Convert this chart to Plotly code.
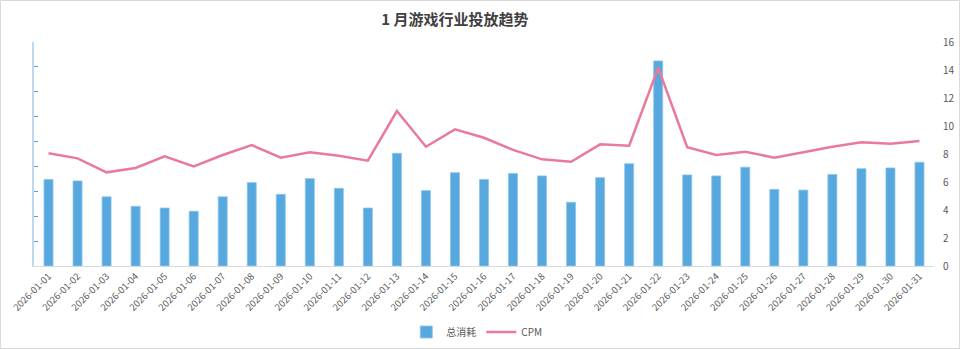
import plotly.graph_objects as go

# January daily data: total spend (left axis, unlabeled) and CPM (right axis)
dates = [f"2026-01-{d:02d}" for d in range(1, 32)]
spend = [34.8, 34.2, 27.8, 24.0, 23.3, 22.0, 27.8, 33.5, 28.8, 35.1, 31.2, 23.3,
         45.3, 30.3, 37.5, 34.8, 37.2, 36.2, 25.6, 35.5, 41.1, 82.4, 36.6, 36.2,
         39.7, 30.8, 30.5, 36.8, 39.1, 39.4, 41.7]
cpm = [8.05, 7.69, 6.69, 7.00, 7.84, 7.12, 7.93, 8.64, 7.74, 8.12, 7.88, 7.52,
       11.07, 8.52, 9.76, 9.16, 8.29, 7.62, 7.45, 8.69, 8.59, 14.16, 8.48, 7.93,
       8.16, 7.74, 8.12, 8.52, 8.84, 8.74, 8.93]
right_ticks = [0, 2, 4, 6, 8, 10, 12, 14, 16]

FONT = "Noto Sans CJK SC, Noto Sans, sans-serif"
W, H = 960, 349
L, R, T, B = 34, 26, 42, 83

fig = go.Figure()
fig.add_trace(go.Bar(
    x=dates, y=spend, name="总消耗",
    marker=dict(color="#56a8df", line=dict(color="#8cc4ec", width=0.8)),
    width=0.31, yaxis="y",
))
fig.add_trace(go.Scatter(
    x=dates, y=cpm, name="CPM", mode="lines",
    line=dict(color="#e97a9c", width=2.5), yaxis="y2",
))

fig.update_layout(
    width=W, height=H,
    margin=dict(l=L, r=R, t=T, b=B, autoexpand=False),
    paper_bgcolor="white", plot_bgcolor="white",
    font=dict(family=FONT, color="#595959", size=10),
    title=dict(text="<b>1 月游戏行业投放趋势</b>", x=455 / W, xanchor="center",
               y=1 - 20 / H, yanchor="middle",
               font=dict(family=FONT, size=15, color="#404040")),
    showlegend=True,
    legend=dict(orientation="h", x=0.492, xanchor="center", y=-(332 - 266) / (H - T - B),
                yanchor="middle", font=dict(size=10, color="#595959"),
                itemwidth=30, tracegroupgap=0),
    xaxis=dict(
        type="category", tickangle=-45, showgrid=False, automargin=False,
        showline=True, linecolor="#d9d9d9", linewidth=1,
        ticks="", tickfont=dict(size=9.5, color="#595959"),
    ),
    yaxis=dict(
        range=[0, 90], dtick=10, showgrid=False, zeroline=False, automargin=False,
        showline=True, linecolor="#bdd7ee", linewidth=1.5,
        ticks="inside", ticklen=4, tickcolor="#5b9bd5",
        showticklabels=False,
    ),
    yaxis2=dict(
        range=[0, 16], tickvals=right_ticks, overlaying="y", side="right",
        showgrid=False, zeroline=False, showline=False, ticks="", automargin=False,
        tickfont=dict(size=10, color="#595959"), ticklabelstandoff=8,
    ),
)

# thin light-grey frame around the whole chart
pw, ph = W - L - R, H - T - B
fig.add_shape(type="rect", xref="paper", yref="paper",
              x0=-(L - 0.5) / pw, x1=1 + (R - 0.5) / pw,
              y0=-(B - 0.5) / ph, y1=1 + (T - 0.5) / ph,
              line=dict(color="#d9d9d9", width=1), fillcolor="rgba(0,0,0,0)",
              layer="below")

fig.write_html("out.html")
